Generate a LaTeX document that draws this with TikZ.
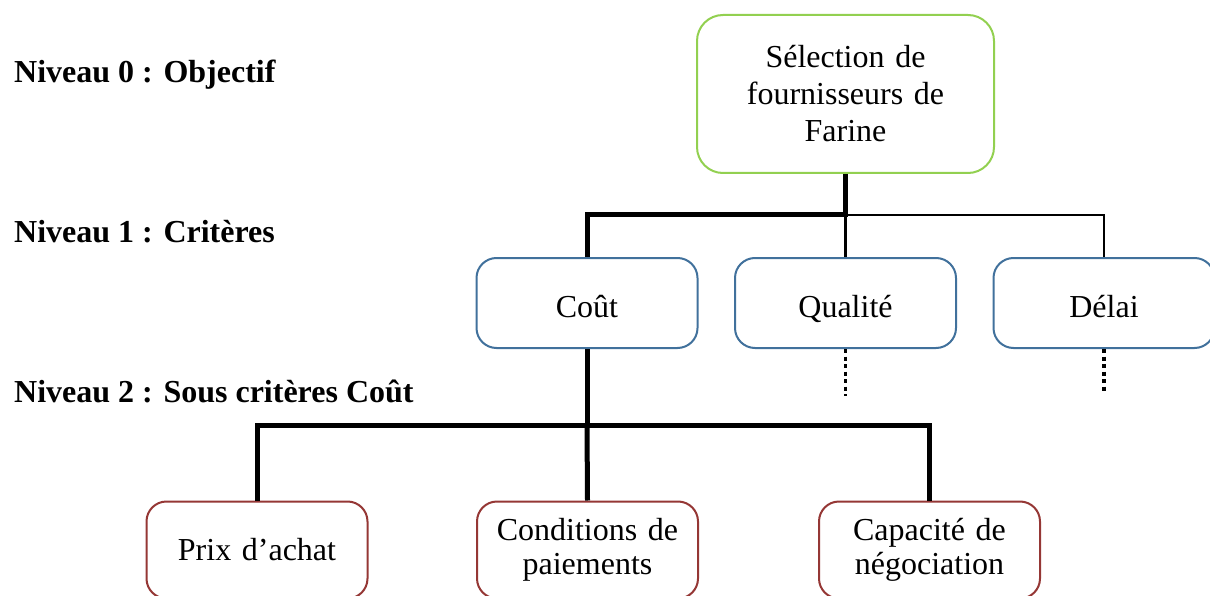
\documentclass[tikz,border=0pt]{standalone}
\usepackage{fontspec}
\setmainfont{Liberation Serif}
\definecolor{topgreen}{HTML}{92D050}
\definecolor{critblue}{HTML}{41719C}
\definecolor{subred}{HTML}{953735}
\begin{document}
\begin{tikzpicture}[x=1pt,y=-1pt,
  boxbase/.style={draw, line width=2pt, fill=white, inner sep=0pt, align=center,
    font=\fontsize{32}{37}\selectfont},
  topbox/.style={boxbase, draw=topgreen, rounded corners=26pt, minimum width=297pt, minimum height=158pt, text width=280pt},
  critbox/.style={boxbase, draw=critblue, rounded corners=20pt, minimum width=221pt, minimum height=90pt,
    text height=28pt, text depth=0pt},
  subbox/.style={boxbase, draw=subred, rounded corners=20pt, minimum width=221pt, minimum height=97pt, text width=210pt,
    font=\fontsize{32}{34}\selectfont},
  levellabel/.style={anchor=base west, inner sep=0pt, font=\fontsize{32}{37}\selectfont\bfseries},
  thickline/.style={line width=5pt, line join=miter},
  thinline/.style={line width=2.5pt, line join=miter},
  dotline/.style={line width=3.5pt, dash pattern=on 4pt off 3.5pt}
]
\useasboundingbox (0,0) rectangle (1210,596);
\clip (0,0) rectangle (1210,596);

% level labels
\node[levellabel] (l0) at (14,83) {Niveau 0 : Objectif};
\node[levellabel] (l1) at (14,242) {Niveau 1 : Critères};
\node[levellabel] (l2) at (14,402) {Niveau 2 : Sous critères Coût};

% nodes
\node[topbox] (top) at (845.5,94) {Sélection de\\fournisseurs de\\Farine};
\node[critbox] (cout) at (587,303) {Coût};
\node[critbox] (qual) at (845.5,303) {Qualité};
\node[critbox] (delai) at (1104,303) {Délai};
\node[subbox] (prix) at (257,550) {Prix d’achat};
\node[subbox] (cond) at (587.5,550) {Conditions de\\paiements};
\node[subbox] (capa) at (929.5,550) {Capacité de\\négociation};

% coordinates
\coordinate (b0) at (845.5,215);
\coordinate (b1) at (587,425);
\coordinate (q1) at (845.5,396);
\coordinate (d1) at (1104,393);

% level 0 -> level 1
\draw[thinline] (b0) -| (delai.north);
\draw[thinline] (b0) -- (qual.north);
\draw[thickline] (top.south) -- (b0) -| (cout.north);

% level 1 -> level 2
\draw[thickline] (cout.south) -- (b1);
\draw[thickline] (prix.north) |- (b1) -| (capa.north);
\draw[thickline] (b1) -- (cond.north);

% dotted continuations
\draw[dotline] (qual.south) -- (q1);
\draw[dotline] (delai.south) -- (d1);
\end{tikzpicture}
\end{document}
